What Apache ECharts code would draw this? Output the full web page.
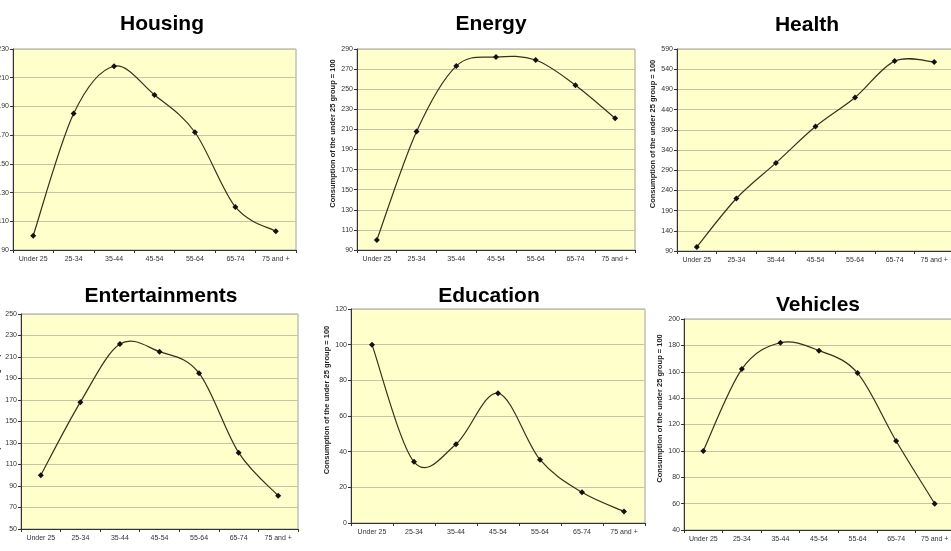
<!DOCTYPE html>
<html>
<head>
<meta charset="utf-8">
<script src="https://cdn.jsdelivr.net/npm/echarts@6/dist/echarts.min.js"></script>
<style>
  html, body { margin: 0; padding: 0; background: #fff; }
  #main { width: 951px; height: 551px; }
</style>
</head>
<body>
<div id="main"></div>
<script>
var categories = ['Under 25', '25-34', '35-44', '45-54', '55-64', '65-74', '75 and +'];

// values, under 25 group = 100
var housing = [100, 185, 218, 198, 172, 120, 103];
var energy = [100, 208, 273, 282, 279, 254, 221];
var health = [100, 220, 308, 398, 470, 560, 558];
var entertainments = [100, 168, 222, 215, 195, 121, 81];
var education = [100, 34.3, 44.2, 72.8, 35.5, 17.2, 6.5];
var vehicles = [100, 162, 182, 176, 159, 107.5, 60];

// y axis ticks: [min, max, step]
var housingTicks = [90, 230, 20];
var energyTicks = [90, 290, 20];
var healthTicks = [90, 590, 50];
var entertainmentsTicks = [50, 250, 20];
var educationTicks = [0, 120, 20];
var vehiclesTicks = [40, 200, 20];

var axisName = 'Consumption of the under 25 group = 100';

var panels = [
  { title: 'Housing', data: housing, ticks: housingTicks, left: 13, top: 49, width: 283, height: 201, cx: 157, ty: 9 },
  { title: 'Energy', data: energy, ticks: energyTicks, left: 357, top: 49, width: 278, height: 201, cx: 486, ty: 9 },
  { title: 'Health', data: health, ticks: healthTicks, left: 677, top: 49, width: 277, height: 202, cx: 802, ty: 10 },
  { title: 'Entertainments', data: entertainments, ticks: entertainmentsTicks, left: 21, top: 314, width: 277, height: 215, cx: 156, ty: 281 },
  { title: 'Education', data: education, ticks: educationTicks, left: 351, top: 309, width: 294, height: 214, cx: 484, ty: 281 },
  { title: 'Vehicles', data: vehicles, ticks: vehiclesTicks, left: 684, top: 319, width: 270, height: 211, cx: 813, ty: 290 }
];

var chart = echarts.init(document.getElementById('main'));

var labelFont = "'Liberation Sans Narrow', 'Liberation Sans', sans-serif";

// Excel-like smoothed line: cardinal (Catmull-Rom) segments between
// points mapped through the axes with api.coord
function smoothRenderer(values) {
  return function (params, api) {
    var i = params.dataIndex;
    var n = values.length;
    if (i >= n - 1) return null;
    var pt = function (k) {
      k = Math.max(0, Math.min(n - 1, k));
      return api.coord([k, values[k]]);
    };
    var p0 = pt(i - 1), p1 = pt(i), p2 = pt(i + 1), p3 = pt(i + 2);
    var t = 1 / 6;
    return {
      type: 'bezierCurve',
      shape: {
        x1: p1[0], y1: p1[1],
        cpx1: p1[0] + (p2[0] - p0[0]) * t,
        cpy1: p1[1] + (p2[1] - p0[1]) * t,
        cpx2: p2[0] - (p3[0] - p1[0]) * t,
        cpy2: p2[1] - (p3[1] - p1[1]) * t,
        x2: p2[0], y2: p2[1]
      },
      style: { stroke: '#33331a', lineWidth: 1.2, fill: null }
    };
  };
}

var series = [];
panels.forEach(function (p, i) {
  series.push({
    type: 'custom',
    name: p.title + ' line',
    xAxisIndex: i,
    yAxisIndex: i,
    data: p.data.map(function (v, k) { return [k, v]; }),
    encode: { x: 0, y: 1 },
    renderItem: smoothRenderer(p.data),
    clip: true,
    silent: true
  });
  series.push({
    type: 'scatter',
    name: p.title,
    xAxisIndex: i,
    yAxisIndex: i,
    data: p.data,
    symbol: 'diamond',
    symbolSize: 6,
    itemStyle: { color: '#111', opacity: 1 }
  });
});

var option = {
  backgroundColor: '#ffffff',
  animation: false,
  title: panels.map(function (p) {
    return {
      text: p.title,
      left: p.cx,
      top: p.ty,
      textAlign: 'center',
      textStyle: { fontFamily: 'Liberation Sans', fontWeight: 'bold', fontSize: 21, color: '#000' }
    };
  }),
  grid: panels.map(function (p) {
    return {
      left: p.left, top: p.top, width: p.width, height: p.height,
      show: true, backgroundColor: '#ffffcc', borderColor: '#a0a0a0', borderWidth: 1,
      containLabel: false,
      outerBoundsMode: 'none'
    };
  }),
  xAxis: panels.map(function (p, i) {
    return {
      type: 'category',
      gridIndex: i,
      data: categories,
      boundaryGap: true,
      axisLine: { lineStyle: { color: '#333', width: 1 } },
      axisTick: { show: true, inside: false, length: 3, alignWithLabel: false, lineStyle: { color: '#333' } },
      axisLabel: { fontFamily: labelFont, fontSize: 7, color: '#333', margin: 6, interval: 0 },
      splitLine: { show: false }
    };
  }),
  yAxis: panels.map(function (p, i) {
    return {
      type: 'value',
      gridIndex: i,
      min: p.ticks[0],
      max: p.ticks[1],
      interval: p.ticks[2],
      name: axisName,
      nameLocation: 'middle',
      nameGap: 17,
      nameRotate: 90,
      nameTextStyle: { fontFamily: 'Liberation Sans', fontWeight: 'bold', fontSize: 7.5, color: '#222', padding: [0, 0, 0, 32] },
      axisLine: { show: true, lineStyle: { color: '#333', width: 1 } },
      axisTick: { show: true, inside: false, length: 3, lineStyle: { color: '#333' } },
      axisLabel: { fontFamily: labelFont, fontSize: 7, color: '#333', margin: 4 },
      splitLine: { show: true, lineStyle: { color: '#c4c4a8', width: 1 } }
    };
  }),
  series: series
};

chart.setOption(option);
</script>
</body>
</html>
